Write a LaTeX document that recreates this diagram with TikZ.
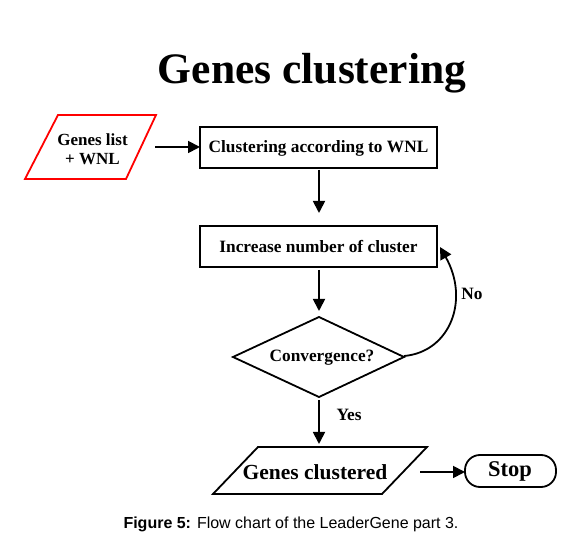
\documentclass[tikz,border=0pt]{standalone}
\usepackage{fontspec}
\setmainfont{Liberation Serif}
\newfontfamily\capfont{Liberation Sans}
\usetikzlibrary{arrows.meta}
\begin{document}
\begin{tikzpicture}[x=1pt,y=-1pt,
  line width=1.8pt,
  arr/.style={-{Triangle[length=12pt,width=12pt]}},
  lbl/.style={font=\bfseries\fontsize{17}{19.5}\selectfont, align=center, inner sep=0pt},
  boxtxt/.style={font=\bfseries\fontsize{17.3}{20}\selectfont, inner sep=0pt},
  bigtxt/.style={font=\bfseries\fontsize{21.5}{24}\selectfont, inner sep=0pt},
]
\useasboundingbox (0,0) rectangle (582,545);
% title
\node[font=\bfseries\fontsize{43.5}{48}\selectfont, inner sep=0pt] (title) at (312,73) {Genes clustering};
% input parallelogram
\draw[red] (58,115) -- (156,115) -- (126,179) -- (25,179) -- cycle;
\node[lbl] (in) at (92.5,149) {Genes list\\ + WNL};
\coordinate (inR) at (155,147);
% boxes
\draw (200,127) rectangle (437,168);
\node[boxtxt] (b1) at (318.5,148) {Clustering according to WNL};
\coordinate (b1L) at (200,147);
\coordinate (b1B) at (319,170);
\draw (200,226) rectangle (437,267);
\node[boxtxt] (b2) at (318.5,247) {Increase number of cluster};
\coordinate (b2T) at (319,213);
\coordinate (b2B) at (319,270);
\coordinate (b2R) at (440,247);
% diamond
\draw (233,357) -- (319,317) -- (404,357) -- (319,397) -- cycle;
\node[boxtxt] (dec) at (322,358) {Convergence?};
\coordinate (decT) at (319,311);
\coordinate (decR) at (404,356);
\coordinate (decB) at (319,400);
% output parallelogram
\draw (258,447) -- (427,447) -- (382,494) -- (213,494) -- cycle;
\node[bigtxt] (out) at (315,472) {Genes clustered};
\coordinate (outT) at (319,444);
\coordinate (outR) at (420,472);
% stop
\draw[rounded corners=15pt] (465,455) rectangle (556,487);
\node[bigtxt, font=\bfseries\fontsize{22.5}{24}\selectfont] (stop) at (510,471) {Stop};
\coordinate (stopL) at (465,472);
% connectors
\draw[arr] (inR) -- (b1L);
\draw[arr] (b1B) -- (b2T);
\draw[arr] (b2B) -- (decT);
\draw[arr] (decR) .. controls (450,352) and (470,300) .. (b2R);
\node[boxtxt] (no) at (472,294) {No};
\draw[arr] (decB) -- (outT);
\node[boxtxt] (yes) at (349,415) {Yes};
\draw[arr] (outR) -- (stopL);
% caption
\node[inner sep=0pt, font=\capfont\fontsize{16}{18}\selectfont] (cap) at (291,524) {\textbf{Figure 5:} Flow chart of the LeaderGene part 3.};
\end{tikzpicture}
\end{document}
